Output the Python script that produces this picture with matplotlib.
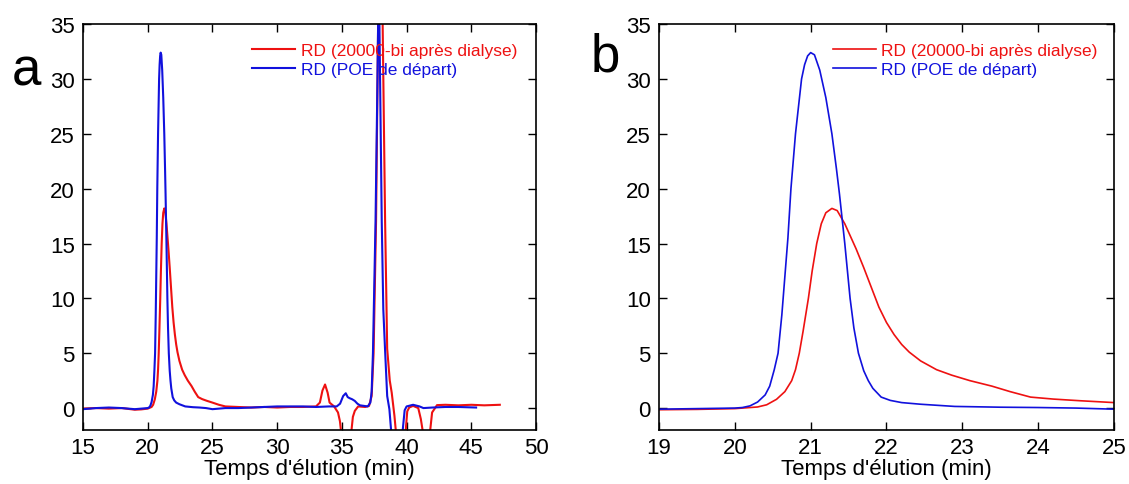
import matplotlib
matplotlib.use('Agg')
import matplotlib.pyplot as plt

plt.rcParams['font.family'] = ['Liberation Sans', 'DejaVu Sans']

# temps d'élution (min) et signal RD
t_red = [15.0, 16.0, 17.0, 18.0, 19.0, 19.5, 20.0, 20.3, 20.42, 20.55, 20.66, 20.75,
         20.8, 20.85, 20.9, 20.97, 21.02, 21.08, 21.14, 21.2, 21.28, 21.35, 21.45,
         21.6, 21.7, 21.8, 21.9, 22.0, 22.1, 22.2, 22.3, 22.45, 22.66, 22.86, 23.1,
         23.39, 23.63, 23.9, 24.2, 24.55, 25.0, 25.5, 26.0, 27.0, 28.0, 29.0, 30.0,
         31.0, 32.0, 33.0, 33.3, 33.5, 33.7, 33.9, 34.05, 34.4, 34.7, 34.85, 34.97,
         35.3, 35.7, 35.85, 36.0, 36.26, 36.8, 37.1, 37.3, 37.45, 37.64, 37.8, 37.95,
         38.15, 38.34, 38.5, 38.7, 38.85, 39.06, 39.2, 39.5, 39.9, 40.05, 40.2, 40.5,
         40.9, 41.1, 41.3, 41.55, 41.78, 41.97, 42.35, 43.0, 44.0, 45.0, 46.0, 47.2]
rd_red = [-0.05, 0.0, -0.05, 0.0, -0.15, -0.12, -0.05, 0.1, 0.3, 0.8, 1.5, 2.5,
          3.5, 5.0, 7.0, 10.0, 12.5, 15.0, 16.8, 17.8, 18.2, 18.0, 16.8,
          14.5, 12.8, 11.0, 9.2, 7.8, 6.7, 5.8, 5.1, 4.3, 3.5, 3.0, 2.5,
          2.0, 1.5, 1.0, 0.82, 0.67, 0.5, 0.3, 0.15, 0.1, 0.05, 0.1, 0.05,
          0.1, 0.1, 0.15, 0.5, 1.6, 2.15, 1.4, 0.5, 0.15, -0.4, -1.2, -2.5,
          -6.0, -2.5, -0.8, -0.25, 0.15, 0.1, 0.2, 1.1, 5.0, 17.0, 35.0, 50.0,
          35.0, 17.0, 5.4, 2.5, 1.4, -0.7, -2.5, -6.0, -2.5, -0.3, 0.05, 0.2,
          0.0, -1.0, -2.5, -6.0, -2.5, -0.4, 0.27, 0.3, 0.25, 0.3, 0.25, 0.3]

t_blue = [15.0, 16.0, 17.0, 18.0, 19.0, 19.5, 20.0, 20.1, 20.2, 20.3, 20.4, 20.46,
          20.52, 20.57, 20.62, 20.66, 20.7, 20.74, 20.8, 20.88, 20.92, 20.96, 21.0,
          21.05, 21.12, 21.2, 21.28, 21.34, 21.38, 21.45, 21.52, 21.57, 21.63, 21.7,
          21.76, 21.82, 21.93, 22.05, 22.2, 22.45, 22.9, 23.5, 24.0, 24.5, 25.0, 26.0,
          27.0, 28.0, 29.0, 30.0, 31.0, 32.0, 33.0, 34.0, 34.6, 34.86, 35.1, 35.3,
          35.45, 35.6, 35.8, 36.0, 36.2, 36.4, 37.0, 37.2, 37.3, 37.4, 37.6, 37.75,
          37.85, 37.95, 38.08, 38.2, 38.34, 38.5, 38.67, 38.8, 39.2, 39.7, 39.85,
          40.0, 40.5, 41.0, 41.3, 42.0, 43.0, 44.0, 45.37]
rd_blue = [-0.1, 0.0, 0.05, 0.0, -0.1, -0.05, 0.0, 0.05, 0.2, 0.55, 1.2, 2.0,
           3.5, 5.0, 8.5, 12.0, 15.5, 20.0, 25.0, 30.0, 31.3, 32.1, 32.4,
           32.2, 30.8, 28.3, 25.0, 21.8, 19.5, 15.0, 10.0, 7.3, 5.0, 3.4,
           2.5, 1.8, 1.0, 0.7, 0.5, 0.35, 0.15, 0.08, 0.05, 0.0, -0.1, 0.0,
           0.0, 0.05, 0.1, 0.15, 0.15, 0.15, 0.1, 0.15, 0.15, 0.4, 1.1, 1.35,
           1.0, 0.9, 0.8, 0.65, 0.4, 0.25, 0.15, 0.5, 1.5, 5.0, 17.0, 30.0,
           40.0, 30.0, 17.0, 9.0, 5.2, 1.1, -0.1, -2.0, -6.0, -2.0, -0.2,
           0.15, 0.3, 0.15, 0.0, 0.05, 0.1, 0.1, 0.05]

label_red = 'RD (20000-bi après dialyse)'
label_blue = 'RD (POE de départ)'

fig = plt.figure(figsize=(11.29, 4.85), dpi=100)
ax_a = fig.add_axes([0.0735, 0.1113, 0.4013, 0.837])
ax_b = fig.add_axes([0.5837, 0.1113, 0.403, 0.837])

panels = [(ax_a, (15, 50), range(15, 51, 5), 1.5, 0.373),
          (ax_b, (19, 25), range(19, 26), 1.2, 0.382)]

for ax, xlim, xt, lw, leg_x in panels:
    ax.plot(t_red, rd_red, color='#ee1111', lw=lw, label=label_red)
    ax.plot(t_blue, rd_blue, color='#1111dd', lw=lw, label=label_blue)
    ax.set_xlim(*xlim)
    ax.set_ylim(-2, 35)
    ax.set_xticks(list(xt))
    ax.set_yticks(range(0, 36, 5))
    ax.tick_params(direction='in', top=True, right=True, length=6, width=1,
                   labelsize=16)
    ax.tick_params(axis='y', pad=6)
    ax.tick_params(axis='x', pad=5)
    for s in ax.spines.values():
        s.set_linewidth(1.2)
    ax.set_xlabel("Temps d'élution (min)", fontsize=16, labelpad=0)
    ax.legend(loc='upper left', bbox_to_anchor=(leg_x, 0.953), frameon=False,
              labelcolor='linecolor', fontsize=12.5, handlelength=2.5,
              handletextpad=0.3, labelspacing=0.22, borderaxespad=0, borderpad=0)

fig.text(12 / 1129, 1 - 85 / 485, 'a', fontsize=38, va='baseline')
fig.text(591 / 1129, 1 - 72 / 485, 'b', fontsize=38, va='baseline')

fig.savefig('out.png', dpi=100)
